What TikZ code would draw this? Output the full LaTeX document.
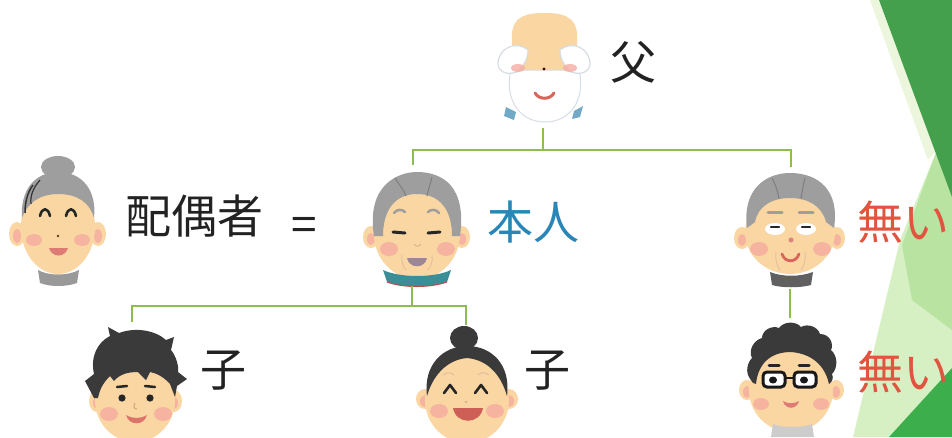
\documentclass[tikz,border=0pt]{standalone}
\usepackage{fontspec}
\newfontfamily\jp{Noto Sans CJK JP}
\definecolor{skin}{HTML}{F9D6A2}
\definecolor{cheek}{HTML}{F6ACA0}
\definecolor{greyhair}{HTML}{9E9E9E}
\definecolor{greydark}{HTML}{7E7E7E}
\definecolor{blackhair}{HTML}{3A3A3A}
\definecolor{mouthred}{HTML}{D9645C}
\definecolor{mouthgrey}{HTML}{9C8699}
\definecolor{teal}{HTML}{3C8E96}
\definecolor{collarblue}{HTML}{72A9C6}
\definecolor{beardline}{HTML}{D6DDE4}
\definecolor{linegreen}{HTML}{8CBD4E}
\definecolor{txtdark}{HTML}{222222}
\definecolor{txtblue}{HTML}{2B86B8}
\definecolor{txtred}{HTML}{E0553F}
\definecolor{gdark}{HTML}{44A04C}
\definecolor{gdark2}{HTML}{3DAE4C}
\definecolor{glight}{HTML}{B8E3A0}
\definecolor{gpale}{HTML}{D6F0C4}
\definecolor{gfaint}{HTML}{ECF6DC}
\tikzset{
  link/.style={draw=linegreen, line width=2pt},
  label/.style={inner sep=0pt, anchor=west, font=\jp\fontsize{46}{50}\selectfont},
  skinfill/.style={fill=skin},
  cheekfill/.style={fill=cheek, opacity=0.8},
  ink/.style={draw=black!85, line width=2.6pt, line cap=round, line join=round},
}
\begin{document}
\begin{tikzpicture}[x=1pt,y=-1pt]
\useasboundingbox (0,0) rectangle (952,437);
\clip (0,0) rectangle (952,437);

% facets along the right edge
\fill[gfaint] (870,0) -- (879,0) -- (937,150) -- (928,160) -- cycle;
\fill[gpale] (937,150) -- (952,195) -- (952,437) -- (853,437) -- (900,240) -- cycle;
\fill[glight] (937,150) -- (952,195) -- (952,330) -- (912,300) -- (902,245) -- cycle;
\fill[gdark] (879,0) -- (952,197) -- (952,0) -- cycle;
\fill[gdark2] (889,437) -- (952,368) -- (952,437) -- cycle;

% ---------- father ----------
\fill[skinfill] (512,74) -- (512,40) .. controls (510,14) and (530,13) .. (544,13)
  .. controls (559,13) and (579,14) .. (577,40) -- (577,74) -- cycle;
\filldraw[fill=white, draw=beardline, line width=1pt] (511,70) .. controls (504,100) and (520,122) .. (545,122)
  .. controls (570,122) and (586,100) .. (579,70) -- cycle;
\filldraw[fill=white, draw=beardline, line width=1.2pt] (528,50) .. controls (516,40) and (498,48) .. (498,64)
  .. controls (499,73) and (508,75) .. (517,72) .. controls (524,66) and (528,58) .. cycle;
\filldraw[fill=white, draw=beardline, line width=1.2pt] (560,50) .. controls (572,40) and (590,48) .. (590,64)
  .. controls (589,73) and (580,75) .. (571,72) .. controls (564,66) and (560,58) .. cycle;
\fill[cheekfill] (518,68) ellipse [x radius=7pt, y radius=4pt];
\fill[cheekfill] (570,68) ellipse [x radius=7pt, y radius=4pt];
\fill[black!70!red] (544,69) circle [radius=1.6pt];
\draw[draw=mouthred, line width=3pt, line cap=round] (535,93) .. controls (539,100) and (550,100) .. (554,93);
\fill[collarblue] (506,107) -- (516,112) -- (514,120) -- (504,116) -- cycle;
\fill[collarblue] (583,106) -- (580,117) -- (572,119) -- (574,111) -- cycle;
\coordinate (fB) at (543,128);

% ---------- spouse ----------
\fill[greyhair] (58,167) ellipse [x radius=17pt, y radius=11pt];
\fill[skinfill] (17,234) ellipse [x radius=8pt, y radius=12pt];
\fill[skinfill] (98,234) ellipse [x radius=8pt, y radius=12pt];
\fill[cheekfill] (17,236) ellipse [x radius=4pt, y radius=7pt];
\fill[cheekfill] (98,236) ellipse [x radius=4pt, y radius=7pt];
\fill[skinfill] (58,227) ellipse [x radius=37pt, y radius=47pt];
\fill[greyhair] (22,218) .. controls (20,190) and (35,172) .. (58,172) .. controls (82,172) and (97,190) .. (94,218)
  .. controls (90,203) and (78,194) .. (58,194) .. controls (40,194) and (27,203) .. cycle;
\draw[black!80, line width=1.5pt] (33,185) .. controls (27,193) and (25,203) .. (25,213);
\draw[black!80, line width=1.2pt] (40,180) .. controls (33,188) and (30,196) .. (31,204);
\draw[ink] (40,216) .. controls (42,207) and (48,207) .. (50,216);
\draw[ink] (66,216) .. controls (68,207) and (74,207) .. (76,216);
\fill[cheekfill] (34,240) ellipse [x radius=8pt, y radius=6pt];
\fill[cheekfill] (82,240) ellipse [x radius=8pt, y radius=6pt];
\fill[black!50!brown] (58,236) circle [radius=1.3pt];
\fill[mouthred!85!white] (49,248) .. controls (52,258) and (65,258) .. (68,248) -- cycle;
\fill[gray!80] (38,270) .. controls (48,276) and (68,276) .. (79,270) -- (77,283) .. controls (66,287) and (50,287) .. (40,283) -- cycle;

% ---------- self ----------
\fill[skinfill] (371,237) ellipse [x radius=8pt, y radius=11pt];
\fill[skinfill] (462,237) ellipse [x radius=8pt, y radius=11pt];
\fill[cheekfill] (371,239) ellipse [x radius=4pt, y radius=6pt];
\fill[cheekfill] (462,239) ellipse [x radius=4pt, y radius=6pt];
\fill[skinfill] (417,234) ellipse [x radius=43pt, y radius=45pt];
\fill[greyhair] (374,236) .. controls (366,185) and (398,172) .. (417,172) .. controls (442,172) and (467,186) .. (460,236)
  -- (452,236) .. controls (452,210) and (440,194) .. (417,194) .. controls (395,194) and (383,210) .. (383,236) -- cycle;
\draw[greydark, line width=1pt] (395,178) .. controls (400,186) and (404,190) .. (406,196);
\draw[greydark, line width=1pt] (432,177) .. controls (430,186) and (428,190) .. (427,196);
\draw[greyhair, line width=2.5pt, line cap=round] (394,213) .. controls (397,209) and (402,209) .. (405,212);
\draw[greyhair, line width=2.5pt, line cap=round] (428,212) .. controls (431,209) and (436,209) .. (439,213);
\draw[ink, line width=3pt] (393,232) -- (405,233);
\draw[ink, line width=3pt] (428,233) -- (440,232);
\fill[cheekfill] (389,249) ellipse [x radius=9pt, y radius=7pt];
\fill[cheekfill] (446,249) ellipse [x radius=9pt, y radius=7pt];
\draw[brown!60, line width=1pt] (414,244) .. controls (416,247) and (419,247) .. (421,244);
\draw[brown!50, line width=0.8pt] (402,255) .. controls (401,262) and (403,266) .. (406,270);
\draw[brown!50, line width=0.8pt] (432,255) .. controls (433,262) and (431,266) .. (428,270);
\fill[mouthgrey] (407,258) .. controls (409,269) and (425,269) .. (427,258) -- cycle;
\fill[teal] (383,270) .. controls (400,278) and (434,278) .. (451,270) -- (447,282) .. controls (430,288) and (403,288) .. (387,282) -- cycle;
\draw[red!60!black!70, line width=1pt] (387,282) .. controls (403,288) and (430,288) .. (447,282);
\coordinate (sT) at (413,165);
\coordinate (sB) at (412,286);

% ---------- sibling (right) ----------
\fill[skinfill] (742,238) ellipse [x radius=8pt, y radius=11pt];
\fill[skinfill] (837,238) ellipse [x radius=8pt, y radius=11pt];
\fill[cheekfill] (742,240) ellipse [x radius=4pt, y radius=6pt];
\fill[cheekfill] (837,240) ellipse [x radius=4pt, y radius=6pt];
\fill[skinfill] (790,232) ellipse [x radius=45pt, y radius=42pt];
\fill[greyhair] (747,228) .. controls (742,190) and (765,173) .. (790,173) .. controls (818,173) and (840,190) .. (834,228)
  -- (826,222) .. controls (822,206) and (808,198) .. (790,198) .. controls (772,198) and (758,206) .. (755,222) -- cycle;
\draw[greydark, line width=1pt] (772,178) .. controls (776,186) and (778,192) .. (779,199);
\draw[greydark, line width=1pt] (805,178) .. controls (803,186) and (802,192) .. (801,199);
\draw[greyhair, line width=3pt, line cap=round] (768,212) -- (782,212);
\draw[greyhair, line width=3pt, line cap=round] (799,212) -- (813,212);
\fill[cheekfill] (759,249) ellipse [x radius=9pt, y radius=7pt];
\fill[cheekfill] (822,249) ellipse [x radius=9pt, y radius=7pt];
\fill[white] (775,229) ellipse [x radius=10pt, y radius=6pt];
\fill[white] (806,229) ellipse [x radius=10pt, y radius=6pt];
\draw[ink, line width=2.2pt] (771,227) -- (779,227);
\draw[ink, line width=2.2pt] (802,227) -- (810,227);
\fill[mouthred!80!white] (791,240) circle [radius=2.5pt];
\draw[brown!50, line width=0.8pt] (776,252) .. controls (775,260) and (777,266) .. (780,270);
\draw[brown!50, line width=0.8pt] (805,252) .. controls (806,260) and (804,266) .. (801,270);
\draw[mouthred, line width=2.8pt, line cap=round] (782,254) .. controls (785,263) and (796,263) .. (799,254);
\fill[gray!75!black] (770,272) .. controls (782,277) and (800,277) .. (813,272) -- (811,285) .. controls (800,288) and (782,288) .. (772,285) -- cycle;
\coordinate (uT) at (791,167);
\coordinate (uB) at (790,289);

% ---------- child (left) ----------
\fill[skinfill] (97,401) ellipse [x radius=8pt, y radius=11pt];
\fill[skinfill] (174,401) ellipse [x radius=8pt, y radius=11pt];
\fill[cheekfill] (97,403) ellipse [x radius=4pt, y radius=6pt];
\fill[cheekfill] (174,403) ellipse [x radius=4pt, y radius=6pt];
\fill[skinfill] (135,400) ellipse [x radius=40pt, y radius=42pt];
\fill[blackhair] (94,398) -- (85,381) -- (94,374) .. controls (90,356) and (98,342) .. (110,336) -- (108,327)
  -- (119,333) .. controls (135,327) and (155,330) .. (166,340) -- (174,337) -- (171,350)
  .. controls (176,356) and (179,366) .. (178,372) -- (187,379) -- (177,386) -- (175,397)
  -- (170,384) .. controls (164,377) and (156,373) .. (150,372) -- (146,380) -- (138,372)
  .. controls (128,372) and (120,374) .. (114,381) -- (110,376) .. controls (104,382) and (100,388) .. (98,398) -- cycle;
\draw[ink, line width=2.5pt] (117,387) -- (127,386);
\draw[ink, line width=2.5pt] (145,386) -- (155,387);
\fill[black!85] (122,398) circle [radius=3.6pt];
\fill[black!85] (150,398) circle [radius=3.6pt];
\fill[cheekfill] (109,414) ellipse [x radius=9pt, y radius=7pt];
\fill[cheekfill] (163,414) ellipse [x radius=9pt, y radius=7pt];
\draw[brown!70, line width=1pt] (135,403) .. controls (133,406) and (134,409) .. (137,409);
\fill[mouthred!90!white] (126,415) .. controls (129,426) and (144,426) .. (147,415) .. controls (140,419) and (133,419) .. cycle;
\coordinate (c1T) at (132,322);

% ---------- child (right) ----------
\fill[blackhair] (464,338) ellipse [x radius=14pt, y radius=12pt];
\fill[skinfill] (425,399) ellipse [x radius=9pt, y radius=10pt];
\fill[skinfill] (509,399) ellipse [x radius=9pt, y radius=10pt];
\fill[cheekfill] (425,401) ellipse [x radius=5pt, y radius=6pt];
\fill[cheekfill] (509,401) ellipse [x radius=5pt, y radius=6pt];
\fill[skinfill] (467,400) ellipse [x radius=42pt, y radius=43pt];
\fill[blackhair] (427,396) .. controls (423,365) and (443,346) .. (467,346) .. controls (492,346) and (511,365) .. (507,396)
  .. controls (502,378) and (490,360) .. (467,358) .. controls (445,360) and (432,378) .. cycle;
\draw[brown!50, line width=1pt] (443,375) .. controls (447,372) and (451,372) .. (454,375);
\draw[brown!50, line width=1pt] (478,375) .. controls (481,372) and (485,372) .. (489,375);
\draw[ink] (444,393) -- (450,385) -- (456,393);
\draw[ink] (475,393) -- (481,385) -- (487,393);
\fill[cheekfill] (439,411) ellipse [x radius=9pt, y radius=7pt];
\fill[cheekfill] (495,411) ellipse [x radius=9pt, y radius=7pt];
\fill[brown!60] (466,402) circle [radius=1.3pt];
\fill[mouthred!95!black] (453,408) .. controls (456,425) and (480,425) .. (483,408) -- cycle;
\coordinate (c2T) at (466,325);

% ---------- sibling's child ----------
\fill[skinfill] (747,390) ellipse [x radius=8pt, y radius=10pt];
\fill[skinfill] (836,390) ellipse [x radius=8pt, y radius=10pt];
\fill[cheekfill] (747,392) ellipse [x radius=4pt, y radius=6pt];
\fill[cheekfill] (836,392) ellipse [x radius=4pt, y radius=6pt];
\fill[skinfill] (791,390) ellipse [x radius=42pt, y radius=42pt];
\fill[blackhair] (751,380) .. controls (744,372) and (748,362) .. (752,358) .. controls (748,350) and (754,340) .. (762,338)
  .. controls (762,330) and (772,325) .. (779,328) .. controls (784,321) and (796,321) .. (801,327)
  .. controls (808,323) and (818,327) .. (820,334) .. controls (830,334) and (834,344) .. (831,350)
  .. controls (838,356) and (838,368) .. (832,374) .. controls (834,378) and (832,382) .. (829,384)
  .. controls (826,370) and (816,354) .. (791,352) .. controls (770,352) and (758,364) .. (756,384) .. controls (753,384) and (752,382) .. cycle;
\draw[ink, line width=3pt] (769,365) -- (779,365);
\draw[ink, line width=3pt] (799,365) -- (809,365);
\fill[cheekfill] (761,404) ellipse [x radius=8pt, y radius=6pt];
\fill[cheekfill] (821,404) ellipse [x radius=8pt, y radius=6pt];
\filldraw[fill=white, draw=black!90, line width=3pt, rounded corners=4pt] (763,372) rectangle (785,387);
\filldraw[fill=white, draw=black!90, line width=3pt, rounded corners=4pt] (794,372) rectangle (816,387);
\draw[black!90, line width=2.5pt] (785,378) -- (794,378);
\fill[black!90] (773,380) ellipse [x radius=4pt, y radius=3.5pt];
\fill[black!90] (804,380) ellipse [x radius=4pt, y radius=3.5pt];
\fill[mouthred!85!white] (783,401) .. controls (785,410) and (797,410) .. (799,401) .. controls (794,404) and (788,404) .. cycle;
\fill[gray!40] (773,424) .. controls (782,428) and (802,428) .. (812,424) -- (814,437) -- (771,437) -- cycle;
\coordinate (mT) at (790,318);

% ---------- connectors ----------
\coordinate (j1) at (543,150);
\coordinate (j2) at (412,306);
\draw[link] (fB) -- (j1);
\draw[link] (sT) |- (j1) -| (uT);
\draw[link] (sB) -- (j2);
\draw[link] (c1T) |- (j2) -| (c2T);
\draw[link] (uB) -- (mT);

% ---------- labels ----------
\node[label, text=txtdark] (tF) at (610,62) {父};
\node[label, text=txtdark] (tSp) at (125,216) {配偶者};
\node[label, text=txtdark] (tEq) at (291,229) {=};
\node[label, text=txtblue] (tSelf) at (487,222) {本人};
\node[label, text=txtred] (tN1) at (857,222) {無い};
\node[label, text=txtdark] (tC1) at (200,371) {子};
\node[label, text=txtdark] (tC2) at (524,371) {子};
\node[label, text=txtred] (tN2) at (857,372) {無い};
\end{tikzpicture}
\end{document}
